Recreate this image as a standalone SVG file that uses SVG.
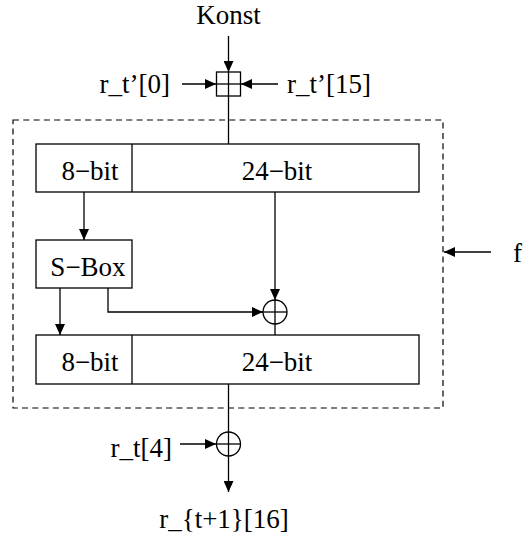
<svg xmlns="http://www.w3.org/2000/svg" width="525" height="537" viewBox="0 0 525 537">
  <defs>
    <marker id="arrow" markerUnits="userSpaceOnUse" markerWidth="12" markerHeight="10" refX="11" refY="5" orient="auto">
      <path d="M0,0 L11,5 L0,10 Z" fill="#000"/>
    </marker>
    <style>
      .box { fill: #fff; stroke: #000; stroke-width: 1.3; }
      .line { fill: none; stroke: #000; stroke-width: 1.3; }
      .arr { fill: none; stroke: #000; stroke-width: 1.3; marker-end: url(#arrow); }
      .dash { fill: none; stroke: #000; stroke-width: 1.2; stroke-dasharray: 6 4.3; }
    </style>
  </defs>

  <!-- round function frame -->
  <rect id="frame" class="dash" x="13" y="120" width="430" height="288"/>

  <!-- connectors -->
  <g id="connectors">
    <line class="arr" x1="228.5" y1="36" x2="228.5" y2="72"/>
    <line class="arr" x1="182" y1="84" x2="216" y2="84"/>
    <line class="arr" x1="278" y1="84" x2="241" y2="84"/>
    <line class="line" x1="228.5" y1="96" x2="228.5" y2="144"/>
    <line class="arr" x1="84" y1="192" x2="84" y2="240"/>
    <line class="arr" x1="275" y1="192" x2="275" y2="300"/>
    <line class="arr" x1="60" y1="288" x2="60" y2="335"/>
    <polyline class="arr" points="108,288 108,312 263,312"/>
    <line class="line" x1="275" y1="324" x2="275" y2="335"/>
    <line class="arr" x1="491" y1="252" x2="444" y2="252"/>
    <line class="line" x1="228.5" y1="384" x2="228.5" y2="456"/>
    <line class="arr" x1="180" y1="444" x2="216" y2="444"/>
    <line class="arr" x1="228.5" y1="456" x2="228.5" y2="492"/>
  </g>

  <g font-family="'Liberation Serif', 'DejaVu Serif', serif" font-size="27" fill="#000">
    <!-- modular addition -->
    <g id="add">
      <rect class="box" x="216.5" y="72" width="24" height="24"/>
      <line class="line" x1="228.5" y1="72" x2="228.5" y2="96"/>
      <line class="line" x1="216.5" y1="84" x2="240.5" y2="84"/>
    </g>
    <text x="228.5" y="24" text-anchor="middle">Konst</text>
    <text x="170" y="93" text-anchor="end">r_t’[0]</text>
    <text x="287" y="93">r_t’[15]</text>

    <!-- upper register -->
    <g id="reg-top">
      <rect class="box" x="36" y="144" width="383" height="48"/>
      <line class="line" x1="132" y1="144" x2="132" y2="192"/>
      <text x="90" y="180" text-anchor="middle">8−bit</text>
      <text x="277" y="180" text-anchor="middle">24−bit</text>
    </g>

    <!-- substitution box -->
    <g id="sbox">
      <rect class="box" x="36" y="240" width="96" height="48"/>
      <text x="88" y="276" text-anchor="middle">S−Box</text>
    </g>

    <!-- inner xor -->
    <g id="xor-inner">
      <circle class="box" cx="275" cy="312" r="12"/>
      <line class="line" x1="275" y1="300" x2="275" y2="324"/>
      <line class="line" x1="263" y1="312" x2="287" y2="312"/>
    </g>

    <!-- lower register -->
    <g id="reg-bottom">
      <rect class="box" x="36" y="335" width="383" height="49"/>
      <line class="line" x1="132" y1="335" x2="132" y2="384"/>
      <text x="90" y="371" text-anchor="middle">8−bit</text>
      <text x="277" y="371" text-anchor="middle">24−bit</text>
    </g>

    <!-- frame label -->
    <text id="label-f" x="513" y="262">f</text>

    <!-- outer xor -->
    <g id="xor-outer">
      <circle class="box" cx="228.5" cy="444" r="12"/>
      <line class="line" x1="228.5" y1="432" x2="228.5" y2="456"/>
      <line class="line" x1="216.5" y1="444" x2="240.5" y2="444"/>
    </g>
    <text x="172" y="457" text-anchor="end">r_t[4]</text>
    <text x="224" y="528" text-anchor="middle">r_{t+1}[16]</text>
  </g>
</svg>
